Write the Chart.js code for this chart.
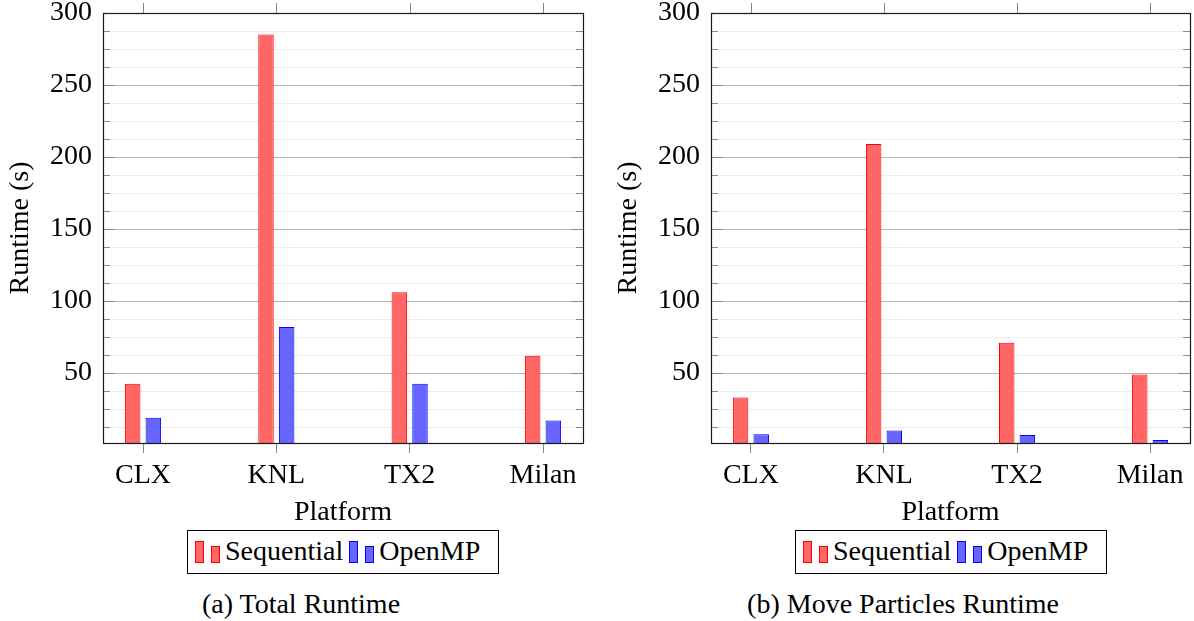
<!DOCTYPE html>
<html>
<head>
<meta charset="utf-8">
<script src="https://cdn.jsdelivr.net/npm/chart.js@4.4.0/dist/chart.umd.min.js"></script>
<style>
  html, body { margin: 0; padding: 0; background: #fff; }
  body { width: 1194px; height: 621px; position: relative; overflow: hidden;
         font-family: "Liberation Serif", serif; color: #000; }
  canvas { position: absolute; top: 0; }
  .legend { position: absolute; top: 530px; height: 44px; box-sizing: border-box;
            border: 1px solid #000; display: flex; align-items: center; justify-content: flex-start;
            padding-left: 7px; font-size: 28px; line-height: 1; padding-bottom: 3px; }
  .icon { position: relative; display: inline-block; width: 25px; height: 22px; margin-right: 5px; top: 1px; }
  .icon i { position: absolute; bottom: 0; width: 9px; box-sizing: border-box; border: 1px solid; }
  .icon i:first-child { left: 0; height: 22px; }
  .icon i:last-child { left: 16px; height: 17px; }
  .seq i { background: #ff6666; border-color: #ff0000; }
  .omp i { background: #6666ff; border-color: #0000ff; }
  .gap { display: inline-block; width: 6px; }
  .caption { position: absolute; top: 590px; font-size: 28px; line-height: 1;
             white-space: nowrap; transform: translateX(-50%); }
</style>
</head>
<body>
<canvas id="total" width="597" height="530" style="left:0"></canvas>
<canvas id="move" width="597" height="530" style="left:597px"></canvas>

<div class="legend" style="left:187px;width:312px">
  <span class="icon seq"><i></i><i></i></span><span>Sequential</span><span class="gap"></span>
  <span class="icon omp"><i></i><i></i></span><span>OpenMP</span>
</div>
<div class="legend" style="left:795px;width:312px">
  <span class="icon seq"><i></i><i></i></span><span>Sequential</span><span class="gap"></span>
  <span class="icon omp"><i></i><i></i></span><span>OpenMP</span>
</div>

<div class="caption" style="left:301px">(a) Total Runtime</div>
<div class="caption" style="left:903px">(b) Move Particles Runtime</div>

<script>
// Platforms and measured runtimes in seconds
const platforms = ['CLX', 'KNL', 'TX2', 'Milan'];
const totalSequential = [42.5, 285, 106, 62];
const totalOpenMP = [19, 82, 42.5, 17];
const moveSequential = [33, 209, 71, 49];
const moveOpenMP = [7.4, 10, 7, 3.5];

// Y axis: labelled ticks every 50 s, three minor ticks between them
const yMajorTicks = [50, 100, 150, 200, 250, 300];
const yMinorSteps = 4;
const yMin = 1.4;
const yMax = 300;

const seqStyle = { backgroundColor: '#ff6666', borderColor: '#ff0000' };
const ompStyle = { backgroundColor: '#6666ff', borderColor: '#0000ff' };

const FAMILY = '"Liberation Serif", serif';
const textFont = { family: FAMILY, size: 28 };
Chart.defaults.font.family = FAMILY;
Chart.defaults.font.size = 28;
Chart.defaults.color = '#000';

const isMajor = v => yMajorTicks.includes(v);

// Frame around the plot area, inward y tick marks on both sides, x tick marks on top
const frameAndTicks = {
  id: 'frameAndTicks',
  afterDraw(chart) {
    const { ctx, chartArea: a, scales: { x, y } } = chart;
    ctx.save();
    ctx.lineWidth = 1;
    ctx.strokeStyle = '#8a8a8a';
    ctx.beginPath();
    y.ticks.forEach(t => {
      const py = Math.round(y.getPixelForValue(t.value)) + 0.5;
      const len = isMajor(t.value) ? 12 : 7;
      ctx.moveTo(a.left, py); ctx.lineTo(a.left + len, py);
      ctx.moveTo(a.right - len, py); ctx.lineTo(a.right, py);
    });
    x.ticks.forEach(t => {
      const px = Math.round(x.getPixelForValue(t.value)) + 0.5;
      ctx.moveTo(px, a.top); ctx.lineTo(px, a.top - 10);
    });
    ctx.stroke();
    ctx.strokeStyle = '#1a1a1a';
    ctx.lineWidth = 1.2;
    ctx.strokeRect(Math.round(a.left) + 0.5, Math.round(a.top) + 0.5,
                   Math.round(a.width), Math.round(a.height));
    ctx.restore();
  }
};

function makeChart(id, seq, omp, yAxisWidth, padRight, titleOffset) {
  const pts = vals => vals.map((v, i) => ({ x: i, y: v }));
  return new Chart(document.getElementById(id), {
    type: 'bar',
    data: {
      datasets: [
        { label: 'Sequential', data: pts(seq), ...seqStyle, borderWidth: 1,
          categoryPercentage: 0.31, barPercentage: 0.75 },
        { label: 'OpenMP', data: pts(omp), ...ompStyle, borderWidth: 1,
          categoryPercentage: 0.31, barPercentage: 0.75 }
      ]
    },
    options: {
      responsive: false,
      animation: false,
      devicePixelRatio: 1,
      layout: { padding: { left: 0, top: 13, right: padRight, bottom: 0 } },
      plugins: { legend: { display: false }, tooltip: { enabled: false } },
      scales: {
        x: {
          type: 'linear',
          offset: false,
          min: -0.3,
          max: platforms.length - 1 + 0.3,
          afterBuildTicks: s => { s.ticks = platforms.map((p, i) => ({ value: i })); },
          afterFit: s => { s.height = 87; s.paddingLeft = 0; s.paddingRight = 0; },
          ticks: { autoSkip: false, padding: 6, maxRotation: 0, font: textFont,
                   callback: (v, i) => platforms[i] },
          grid: { offset: false, drawOnChartArea: false, tickLength: 10, color: '#8a8a8a' },
          border: { display: false },
          title: { display: true, text: 'Platform', font: textFont, padding: { top: 0, bottom: 1 } }
        },
        y: {
          min: yMin,
          max: yMax,
          afterBuildTicks: s => {
            const step = yMajorTicks[0] / yMinorSteps;
            const ticks = [];
            for (let k = 1; k * step <= yMax; k++) ticks.push({ value: k * step });
            s.ticks = ticks;
          },
          afterFit: s => { s.width = yAxisWidth; s.paddingTop = 0; s.paddingBottom = 0; },
          ticks: { autoSkip: false, padding: 11, font: textFont,
                   callback: v => isMajor(v) ? String(v) : '' },
          grid: { drawTicks: false,
                  color: c => (c.tick && isMajor(c.tick.value)) ? '#b5b5b5' : '#ececec' },
          border: { display: false },
          title: { display: true, text: 'Runtime (s)', font: textFont,
                   padding: { top: titleOffset, bottom: 0 } }
        }
      }
    },
    plugins: [frameAndTicks]
  });
}

function drawAll() {
  makeChart('total', totalSequential, totalOpenMP, 103, 14, 4);
  makeChart('move', moveSequential, moveOpenMP, 114, 4, 15);
}

if (document.fonts && document.fonts.load) {
  document.fonts.load('28px "Liberation Serif"').then(drawAll, drawAll);
} else {
  drawAll();
}
</script>
</body>
</html>
